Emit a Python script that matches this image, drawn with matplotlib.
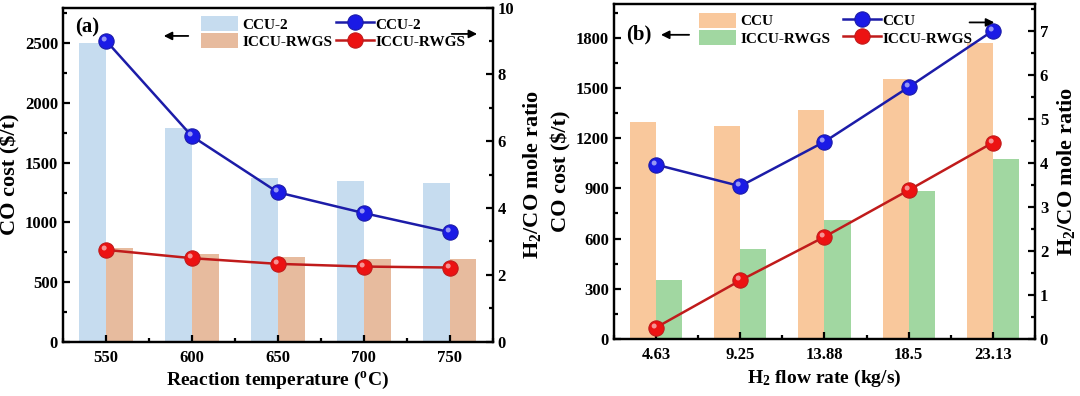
import matplotlib
matplotlib.use('Agg')
import matplotlib.pyplot as plt
from matplotlib.path import Path
from matplotlib.ticker import AutoMinorLocator, MultipleLocator
import numpy as np

plt.rcParams['font.family'] = 'Liberation Serif'
plt.rcParams['font.weight'] = 'bold'
plt.rcParams['axes.labelweight'] = 'bold'
plt.rcParams['mathtext.fontset'] = 'custom'
plt.rcParams['mathtext.rm'] = 'Liberation Serif:bold'
plt.rcParams['mathtext.it'] = 'Liberation Serif:bold'
plt.rcParams['mathtext.bf'] = 'Liberation Serif:bold'
plt.rcParams['axes.linewidth'] = 1.6

# panel (a)
temps = ['550', '600', '650', '700', '750']
cost_ccu2 = [2500, 1790, 1372, 1346, 1328]
cost_iccu_a = [785, 737, 709, 697, 697]
ratio_ccu2 = [9.01, 6.15, 4.47, 3.85, 3.28]
ratio_iccu_a = [2.75, 2.50, 2.33, 2.25, 2.22]

# panel (b)
flows = ['4.63', '9.25', '13.88', '18.5', '23.13']
cost_ccu = [1294, 1270, 1370, 1556, 1770]
cost_iccu_b = [350, 538, 712, 887, 1074]
ratio_ccu = [3.96, 3.47, 4.48, 5.72, 7.0]
ratio_iccu_b = [0.26, 1.33, 2.32, 3.38, 4.46]

# little highlight for the "sphere" markers
circ = Path.circle((-0.28, 0.3), 0.3)
hl = Path([(-1, -1), (1, 1)] + list(circ.vertices),
          [Path.MOVETO, Path.MOVETO] + list(circ.codes))

fig = plt.figure(figsize=(10.8, 3.96), dpi=100)
ax1 = fig.add_axes([0.0583, 0.137, 0.398, 0.844])
ax2 = fig.add_axes([0.5685, 0.144, 0.3898, 0.845])

w = 0.31


def style(ax, axr):
    for a in (ax, axr):
        a.tick_params(which='both', direction='in', labelsize=12, width=1.6)
        a.tick_params(which='major', length=5)
        a.tick_params(which='minor', length=3)
    ax.tick_params(axis='x', pad=6)
    ax.xaxis.set_minor_locator(MultipleLocator(0.5))
    ax.yaxis.set_minor_locator(AutoMinorLocator(2))
    axr.yaxis.set_minor_locator(AutoMinorLocator(2))
    ax.set_xlim(-0.5, 4.5)


def lines(axr, x, y, lc, mc, lab):
    axr.plot(x, y, '-', color=lc, lw=1.8, marker='o', ms=11, mfc=mc,
             mec=lc, mew=0.8, label=lab, zorder=3)
    axr.plot(x, y, ls='none', marker=hl, ms=12, mfc='white', mec='none',
             alpha=0.55, zorder=4)


def legends(ax, axr, xb, xl):
    ax.legend(loc='upper left', bbox_to_anchor=(xb, 0.975), frameon=False,
              fontsize=11, handlelength=2.4, handleheight=1.15,
              handletextpad=0.3, labelspacing=0.1, borderaxespad=0,
              borderpad=0)
    axr.legend(loc='upper left', bbox_to_anchor=(xl, 0.975), frameon=False,
               fontsize=11, handlelength=2.5, handleheight=1.15,
               handletextpad=0.1, labelspacing=0.1, borderaxespad=0,
               borderpad=0)


def arrow(ax, x0, x1, y):
    ax.annotate('', xy=(x1, y), xytext=(x0, y), xycoords='axes fraction',
                arrowprops=dict(arrowstyle='-|>', color='black', lw=1.3,
                                mutation_scale=12))


# ---- (a)
x = np.arange(len(temps))
ax1.bar(x - w / 2, cost_ccu2, w, color='#c6dcef', label='CCU-2')
ax1.bar(x + w / 2, cost_iccu_a, w, color='#e7bb9e', label='ICCU-RWGS')
ax1.set_ylim(0, 2800)
ax1.set_yticks(range(0, 2501, 500))
ax1.set_xticks(x)
ax1.set_xticklabels(temps)
ax1.set_xlabel('Reaction temperature ($^{\\mathrm{o}}$C)', fontsize=14, labelpad=3)
ax1.set_ylabel('CO cost ($/t)', fontsize=16, labelpad=3)
ax1r = ax1.twinx()
lines(ax1r, x, ratio_ccu2, '#1c1ca8', '#1a1ae6', 'CCU-2')
lines(ax1r, x, ratio_iccu_a, '#c01b1b', '#ec1212', 'ICCU-RWGS')
ax1r.set_ylim(0, 10)
ax1r.set_yticks(range(0, 11, 2))
ax1r.set_ylabel('H$_2$/CO mole ratio', fontsize=16, labelpad=5)
style(ax1, ax1r)
legends(ax1, ax1r, 0.321, 0.635)
arrow(ax1, 0.298, 0.228, 0.915)
arrow(ax1r, 0.898, 0.97, 0.921)
ax1.text(0.028, 0.94, '(a)', transform=ax1.transAxes, fontsize=15, va='center')

# ---- (b)
x = np.arange(len(flows))
ax2.bar(x - w / 2, cost_ccu, w, color='#f9c89c', label='CCU')
ax2.bar(x + w / 2, cost_iccu_b, w, color='#a1d7a1', label='ICCU-RWGS')
ax2.set_ylim(0, 2000)
ax2.set_yticks(range(0, 1801, 300))
ax2.set_xticks(x)
ax2.set_xticklabels(flows)
ax2.set_xlabel('H$_2$ flow rate (kg/s)', fontsize=14, labelpad=3)
ax2.set_ylabel('CO cost ($/t)', fontsize=16, labelpad=3)
ax2r = ax2.twinx()
lines(ax2r, x, ratio_ccu, '#1c1ca8', '#1a1ae6', 'CCU')
lines(ax2r, x, ratio_iccu_b, '#c01b1b', '#ec1212', 'ICCU-RWGS')
ax2r.set_ylim(0, 7.6)
ax2r.set_yticks(range(0, 8))
ax2r.set_ylabel('H$_2$/CO mole ratio', fontsize=16, labelpad=5)
style(ax2, ax2r)
legends(ax2, ax2r, 0.203, 0.544)
arrow(ax2, 0.185, 0.105, 0.909)
arrow(ax2r, 0.838, 0.91, 0.946)
ax2.text(0.028, 0.91, '(b)', transform=ax2.transAxes, fontsize=15, va='center')

fig.savefig('out.png', dpi=100)
